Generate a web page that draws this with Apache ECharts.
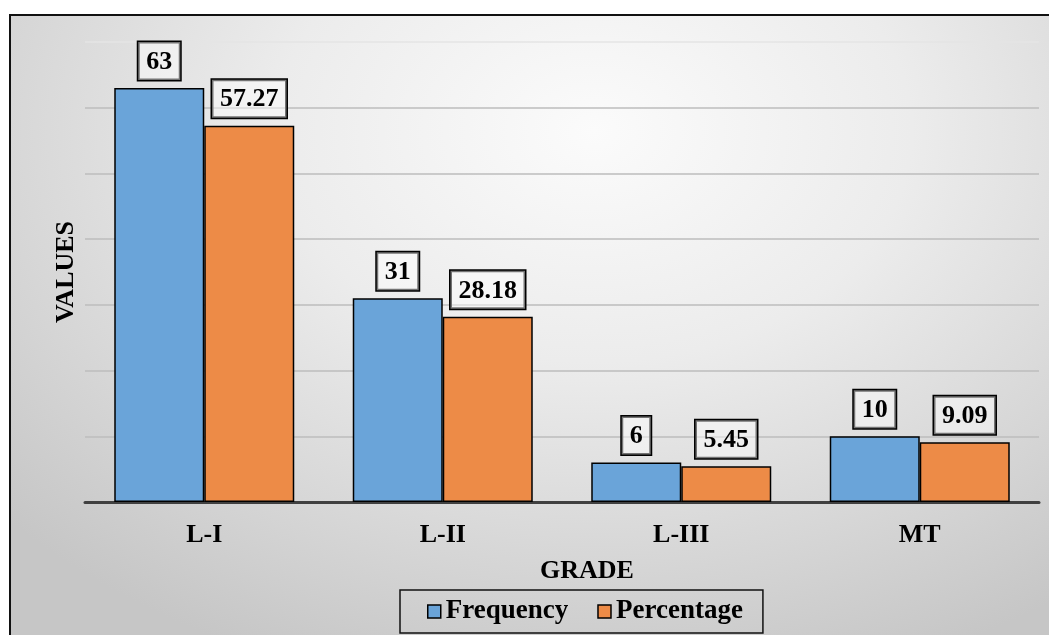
<!DOCTYPE html>
<html>
<head>
<meta charset="utf-8">
<script src="https://cdn.jsdelivr.net/npm/echarts@6/dist/echarts.min.js"></script>
<style>
  html, body { margin: 0; padding: 0; background: #ffffff; overflow: hidden; }
  #frame {
    position: absolute; left: 9px; top: 14px; width: 1060px; height: 640px;
    border-left: 2px solid #111; border-top: 2px solid #111;
    background: radial-gradient(ellipse 75% 90% at 55% 18%, #fbfbfb 0%, #ececec 40%, #d6d6d6 75%, #c6c6c6 100%);
  }
  #chart { position: absolute; left: 0; top: 0; width: 1049px; height: 635px; }
</style>
</head>
<body>
<div id="frame"></div>
<div id="chart"></div>
<script>
// Grade distribution: counts and share of total per grade
const grades = ['L-I', 'L-II', 'L-III', 'MT'];
const frequency = [63, 31, 6, 10];
const percentage = [57.27, 28.18, 5.45, 9.09];
const seriesNames = ['Frequency', 'Percentage'];

const serif = 'Liberation Serif, Times New Roman, serif';

const boxLabel = {
  show: true,
  position: 'top',
  distance: 8,
  fontFamily: serif,
  fontWeight: 'bold',
  fontSize: 26,
  color: '#000',
  backgroundColor: 'rgba(255,255,255,0.45)',
  borderColor: '#000',
  borderWidth: 1.5,
  padding: [7, 8, 5, 8]
};

const chart = echarts.init(document.getElementById('chart'), null, { renderer: 'canvas' });
chart.setOption({
  backgroundColor: 'transparent',
  animation: false,
  grid: { left: 85, right: 10, top: 42, bottom: 133, containLabel: false },
  legend: {
    data: seriesNames,
    left: 400,
    top: 590,
    padding: [8, 20, 8, 27],
    itemGap: 29,
    itemWidth: 13,
    itemHeight: 13,
    icon: 'rect',
    borderColor: '#111',
    borderWidth: 1.5,
    textStyle: { fontFamily: serif, fontWeight: 'bold', fontSize: 27, color: '#000' },
    itemStyle: { borderColor: '#000', borderWidth: 1.5 }
  },
  xAxis: {
    type: 'category',
    data: grades,
    name: 'GRADE',
    nameLocation: 'middle',
    nameGap: 56,
    nameTextStyle: { fontFamily: serif, fontWeight: 'bold', fontSize: 26, color: '#000', padding: [0, 0, 0, 50] },
    axisLine: { show: true, lineStyle: { color: '#404040', width: 3 } },
    axisTick: { show: false },
    axisLabel: { fontFamily: serif, fontWeight: 'bold', fontSize: 26, color: '#000', margin: 20 }
  },
  yAxis: {
    type: 'value',
    min: 0,
    max: 70,
    interval: 10,
    name: 'VALUES',
    nameLocation: 'middle',
    nameGap: 6,
    nameTextStyle: { fontFamily: serif, fontWeight: 'bold', fontSize: 26, color: '#000' },
    axisLine: { show: false },
    axisTick: { show: false },
    axisLabel: { show: false },
    splitLine: {
      show: true,
      lineStyle: { color: ['#bdbdbd', '#bdbdbd', '#bdbdbd', '#bdbdbd', '#bdbdbd', '#bdbdbd', '#bdbdbd', '#e4e4e4'], width: 1.5 }
    }
  },
  series: [
    {
      name: seriesNames[0],
      type: 'bar',
      data: frequency,
      barWidth: 90,
      barGap: '0%',
      itemStyle: { color: '#6aa4d9', borderColor: '#000', borderWidth: 1.5 },
      label: boxLabel
    },
    {
      name: seriesNames[1],
      type: 'bar',
      data: percentage,
      barWidth: 90,
      barGap: '0%',
      itemStyle: { color: '#ed8b47', borderColor: '#000', borderWidth: 1.5 },
      label: boxLabel
    }
  ]
});
</script>
</body>
</html>
